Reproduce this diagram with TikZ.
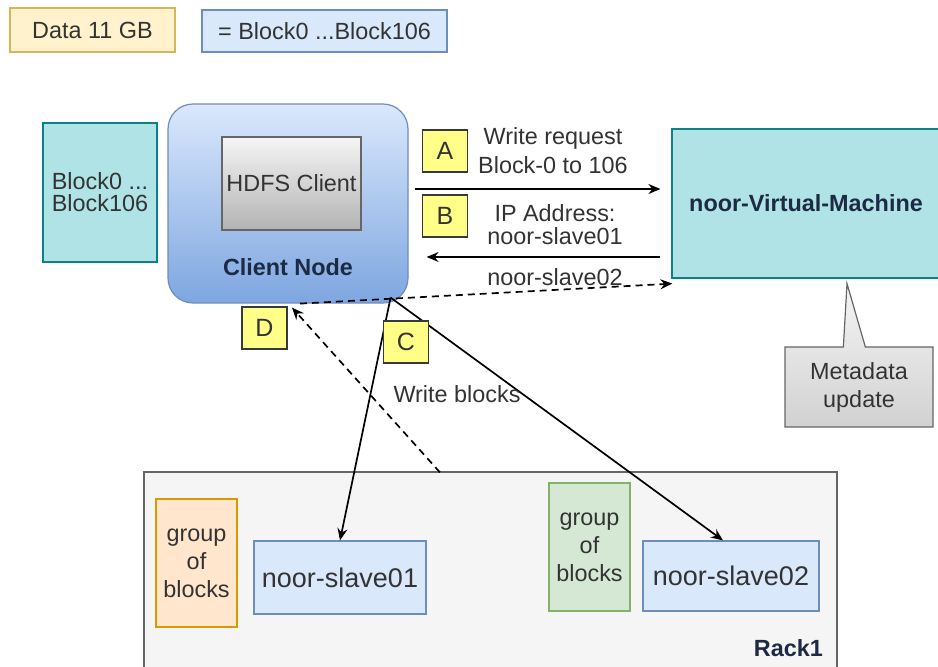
\documentclass[tikz,border=0pt]{standalone}
\usepackage{fontspec}
\setmainfont{Liberation Sans}
\usetikzlibrary{arrows.meta,shapes.callouts}

\definecolor{dataFill}{HTML}{FFF2CC}
\definecolor{dataLine}{HTML}{D6B656}
\definecolor{blueFill}{HTML}{DAE8FC}
\definecolor{blueLine}{HTML}{6C8EBF}
\definecolor{tealFill}{HTML}{B0E3E6}
\definecolor{tealLine}{HTML}{0E8088}
\definecolor{clientBot}{HTML}{7EA6E0}
\definecolor{grayTop}{HTML}{F5F5F5}
\definecolor{grayBot}{HTML}{B3B3B3}
\definecolor{grayLine}{HTML}{666666}
\definecolor{noteFill}{HTML}{FFFF88}
\definecolor{noteLine}{HTML}{36393D}
\definecolor{orangeFill}{HTML}{FFE6CC}
\definecolor{orangeLine}{HTML}{D79B00}
\definecolor{greenFill}{HTML}{D5E8D4}
\definecolor{greenLine}{HTML}{82B366}
\definecolor{txt}{HTML}{333333}
\definecolor{txtdark}{HTML}{1C2A44}

\begin{document}
\begin{tikzpicture}[x=0.5pt,y=-0.5pt,
  every node/.style={font=\fontsize{11.7}{14}\selectfont, text=txt},
  boxsty/.style={draw, line width=0.6pt, inner sep=0pt, align=center},
  letter/.style={boxsty, fill=noteFill, draw=noteLine, minimum width=22.5pt,
    minimum height=21pt, font=\fontsize{12.5}{15}\selectfont},
  flow/.style={line width=0.85pt, -{Stealth[length=6pt,width=5pt,inset=2pt]}},
  back/.style={flow, dash pattern=on 3.5pt off 2.5pt}]

\fill[white] (0,0) rectangle (938,666);
\useasboundingbox (0,0) rectangle (938,666);

%Legend
\node (data) [boxsty, fill=dataFill, draw=dataLine, minimum width=82.5pt, minimum height=22pt] at (92.5,30) {Data 11 GB};
\node (legend) [boxsty, fill=blueFill, draw=blueLine, minimum width=122.5pt, minimum height=21pt] at (324.5,31) {= Block0 ...Block106};

%Client
\node (blocks) [boxsty, fill=tealFill, draw=tealLine, minimum width=57pt, minimum height=69.5pt,
  font=\fontsize{11.7}{11}\selectfont] at (100,192.5) {Block0 ...\\Block106};
\node (client) [boxsty, rounded corners=12.5pt, top color=blueFill, bottom color=clientBot, draw=blueLine,
  minimum width=120pt, minimum height=99.5pt] at (288,203.5) {};
\node (hdfs) [boxsty, top color=grayTop, bottom color=grayBot, draw=grayLine,
  minimum width=69.5pt, minimum height=46.5pt] at (291.5,183.5) {HDFS Client};
\node (clientname) [font=\bfseries\fontsize{11.7}{14}\selectfont, text=txtdark] at (288,267) {Client Node};

%NameNode
\node (vm) [boxsty, fill=tealFill, draw=tealLine, minimum width=134pt, minimum height=74.5pt,
  font=\bfseries\fontsize{11.7}{14}\selectfont, text=txtdark] at (806,203.5) {noor-Virtual-Machine};
\node (meta) [boxsty, rectangle callout, top color=grayTop, bottom color=grayBot!60, draw=grayLine,
  callout absolute pointer={([shift={(41,5)}]vm.south)}, callout pointer width=11pt,
  minimum width=74pt, minimum height=40pt] at (859,387) {Metadata\\update};

%Request and reply
\node (reqtext) [align=center, font=\fontsize{11.7}{14.5}\selectfont] at (553,151) {Write request\\Block-0 to 106};
\node (iptext) [align=center, font=\fontsize{11.7}{11.5}\selectfont] at (555,224.5) {IP Address:\\noor-slave01};
\node (s2text) at (555,277) {noor-slave02};
\draw[flow] ([shift={(6,-14.5)}]client.east) -- ([shift={(-11,-14.5)}]vm.west);
\draw[flow] ([shift={(-11,53.5)}]vm.west) -- ([shift={(18,53.5)}]client.east);
\draw[back] ([shift={(12,0)}]client.south) -- ([shift={(1,5)}]vm.south west);
\node (A) [letter] at (445,151) {A};
\node (B) [letter] at (445,216) {B};

%Rack
\node (rack) [boxsty, fill=grayTop, draw=grayLine, minimum width=346.5pt, minimum height=104pt] at (490.5,576) {};
\node (rackname) [anchor=east, font=\bfseries\fontsize{11.7}{14}\selectfont, text=txtdark] at (830,648) {Rack1};
\node (group1) [boxsty, fill=orangeFill, draw=orangeLine, minimum width=40.5pt, minimum height=64pt] at (196.5,563) {group\\of\\blocks};
\node (slave1) [boxsty, fill=blueFill, draw=blueLine, minimum width=86pt, minimum height=36.5pt,
  font=\fontsize{13.5}{16}\selectfont] at (340,577.5) {noor-slave01};
\node (group2) [boxsty, fill=greenFill, draw=greenLine, minimum width=40.5pt, minimum height=64pt] at (589.5,547) {group\\of\\blocks};
\node (slave2) [boxsty, fill=blueFill, draw=blueLine, minimum width=88pt, minimum height=35pt,
  font=\fontsize{13.5}{16}\selectfont] at (731,576) {noor-slave02};

%Write blocks
\coordinate (fork) at ([shift={(-18,-6)}]client.south east);
\draw[flow] (fork) -- (slave1.north);
\draw[flow] (fork) -- ([shift={(-8,0)}]slave2.north);
\draw[back] ([shift={(-50.5,1)}]rack.north) -- ([shift={(4,4)}]client.south);
\node (writetext) at (457,394) {Write blocks};
\node (C) [letter] at (406,342) {C};
\node (D) [letter] at (264.5,328) {D};
\end{tikzpicture}
\end{document}
